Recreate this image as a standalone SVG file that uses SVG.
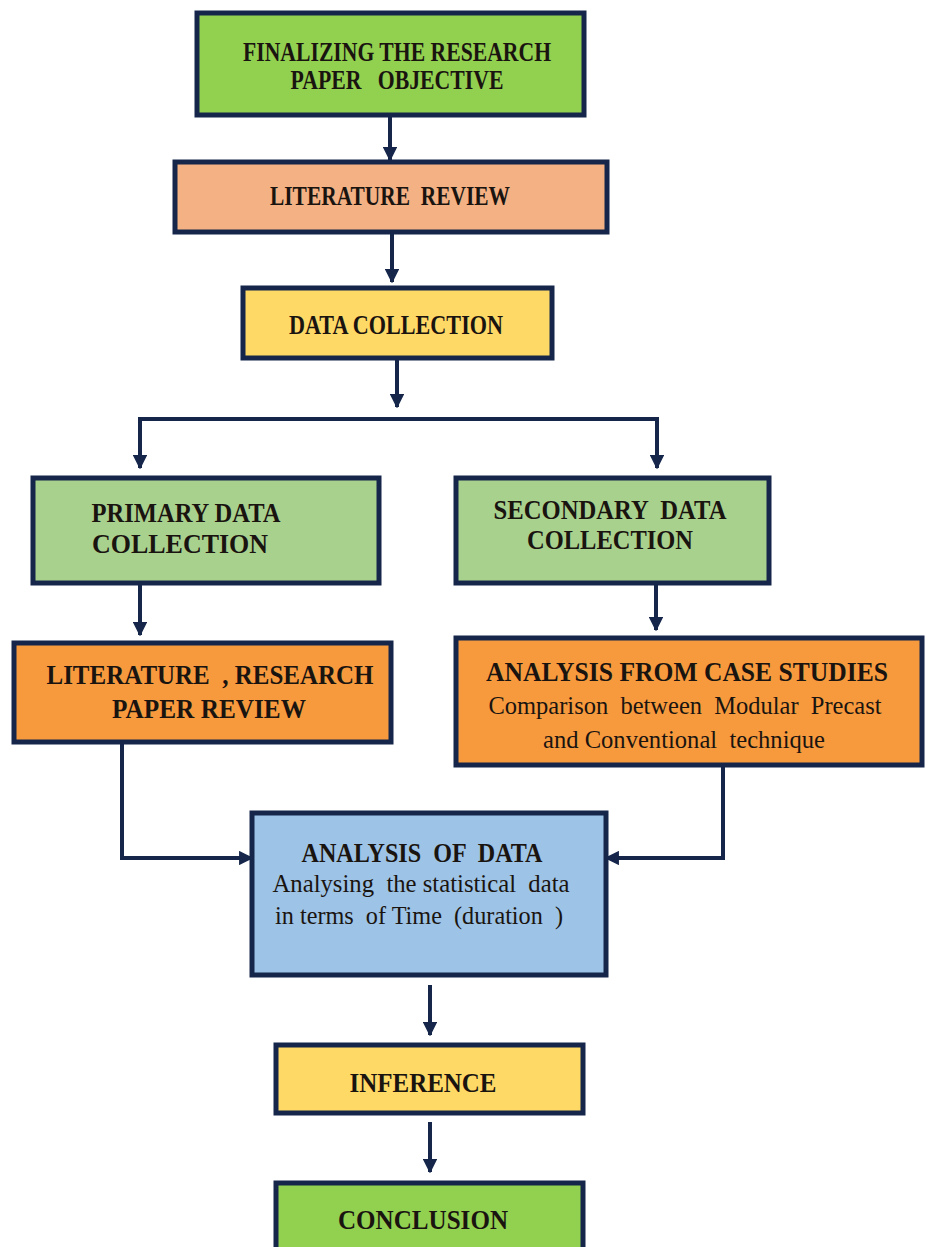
<svg xmlns="http://www.w3.org/2000/svg" width="928" height="1247" viewBox="0 0 928 1247">
<style>
.box{stroke:#15264a;stroke-width:5}
.t{font-family:"Liberation Serif","Times New Roman",serif;font-weight:bold;font-size:27px;fill:#1a1410;text-anchor:middle}
.r{font-family:"Liberation Serif","Times New Roman",serif;font-size:26px;fill:#1a1410;text-anchor:middle}
.c{fill:none;stroke:#15264a;stroke-width:4}
</style>
<defs>
<marker id="ah" viewBox="0 0 10 10" refX="9" refY="5" markerWidth="3.6" markerHeight="3.6" orient="auto" markerUnits="strokeWidth">
<path d="M0,0 L10,5 L0,10 z" fill="#15264a"/>
</marker>
</defs>
<rect width="928" height="1247" fill="#ffffff"/>
<g id="connectors">
<line class="c" x1="390" y1="117" x2="390" y2="160" marker-end="url(#ah)"/>
<line class="c" x1="392" y1="234" x2="392" y2="282" marker-end="url(#ah)"/>
<line class="c" x1="397" y1="360" x2="397" y2="407" marker-end="url(#ah)"/>
<polyline class="c" points="140,419 657,419 657,468" marker-end="url(#ah)"/>
<line class="c" x1="140" y1="417" x2="140" y2="468" marker-end="url(#ah)"/>
<line class="c" x1="140" y1="585" x2="140" y2="635" marker-end="url(#ah)"/>
<line class="c" x1="656" y1="585" x2="656" y2="630" marker-end="url(#ah)"/>
<polyline class="c" points="122,744 122,858 252,858" marker-end="url(#ah)"/>
<polyline class="c" points="723,767 723,858 606,858" marker-end="url(#ah)"/>
<line class="c" x1="430" y1="985" x2="430" y2="1035" marker-end="url(#ah)"/>
<line class="c" x1="430" y1="1122" x2="430" y2="1172" marker-end="url(#ah)"/>
</g>
<g id="n1">
<rect class="box" x="197" y="13" width="387" height="102" fill="#92d050"/>
<text class="t" x="397" y="61" textLength="308" lengthAdjust="spacingAndGlyphs">FINALIZING THE RESEARCH</text>
<text class="t" x="397" y="89" textLength="213" lengthAdjust="spacingAndGlyphs" xml:space="preserve">PAPER   OBJECTIVE</text>
</g>
<g id="n2">
<rect class="box" x="175" y="162" width="432" height="70" fill="#f4b183"/>
<text class="t" x="390" y="205" textLength="240" lengthAdjust="spacingAndGlyphs" xml:space="preserve">LITERATURE  REVIEW</text>
</g>
<g id="n3">
<rect class="box" x="243" y="288" width="309" height="70" fill="#ffd966"/>
<text class="t" x="396" y="334" textLength="214" lengthAdjust="spacingAndGlyphs">DATA COLLECTION</text>
</g>
<g id="n4">
<rect class="box" x="33" y="478" width="346" height="105" fill="#a9d18e"/>
<text class="t" x="186" y="522" textLength="189" lengthAdjust="spacingAndGlyphs">PRIMARY DATA</text>
<text class="t" x="180" y="553" textLength="176" lengthAdjust="spacingAndGlyphs">COLLECTION</text>
</g>
<g id="n5">
<rect class="box" x="456" y="478" width="313" height="105" fill="#a9d18e"/>
<text class="t" x="610" y="519" textLength="233" lengthAdjust="spacingAndGlyphs" xml:space="preserve">SECONDARY  DATA</text>
<text class="t" x="610" y="549" textLength="166" lengthAdjust="spacingAndGlyphs">COLLECTION</text>
</g>
<g id="n6">
<rect class="box" x="14" y="643" width="377" height="99" fill="#f79a3e"/>
<text class="t" x="210" y="684" textLength="327" lengthAdjust="spacingAndGlyphs" xml:space="preserve">LITERATURE  , RESEARCH</text>
<text class="t" x="209" y="718" textLength="194" lengthAdjust="spacingAndGlyphs">PAPER REVIEW</text>
</g>
<g id="n7">
<rect class="box" x="456" y="638" width="466" height="127" fill="#f79a3e"/>
<text class="t" x="687" y="681" textLength="402" lengthAdjust="spacingAndGlyphs">ANALYSIS FROM CASE STUDIES</text>
<text class="r" x="685" y="714" textLength="393" lengthAdjust="spacingAndGlyphs" xml:space="preserve">Comparison  between  Modular  Precast</text>
<text class="r" x="684" y="748" textLength="282" lengthAdjust="spacingAndGlyphs" xml:space="preserve">and Conventional  technique</text>
</g>
<g id="n8">
<rect class="box" x="252" y="813" width="354" height="162" fill="#9dc3e6"/>
<text class="t" x="422" y="862" textLength="241" lengthAdjust="spacingAndGlyphs" xml:space="preserve">ANALYSIS  OF  DATA</text>
<text class="r" x="421" y="892" textLength="297" lengthAdjust="spacingAndGlyphs" xml:space="preserve">Analysing  the statistical  data</text>
<text class="r" x="419" y="924" textLength="288" lengthAdjust="spacingAndGlyphs" xml:space="preserve">in terms  of Time  (duration  )</text>
</g>
<g id="n9">
<rect class="box" x="276" y="1045" width="307" height="68" fill="#ffd966"/>
<text class="t" x="423" y="1092" textLength="147" lengthAdjust="spacingAndGlyphs">INFERENCE</text>
</g>
<g id="n10">
<rect class="box" x="276" y="1183" width="307" height="80" fill="#92d050"/>
<text class="t" x="423" y="1229" textLength="170" lengthAdjust="spacingAndGlyphs">CONCLUSION</text>
</g>
</svg>
